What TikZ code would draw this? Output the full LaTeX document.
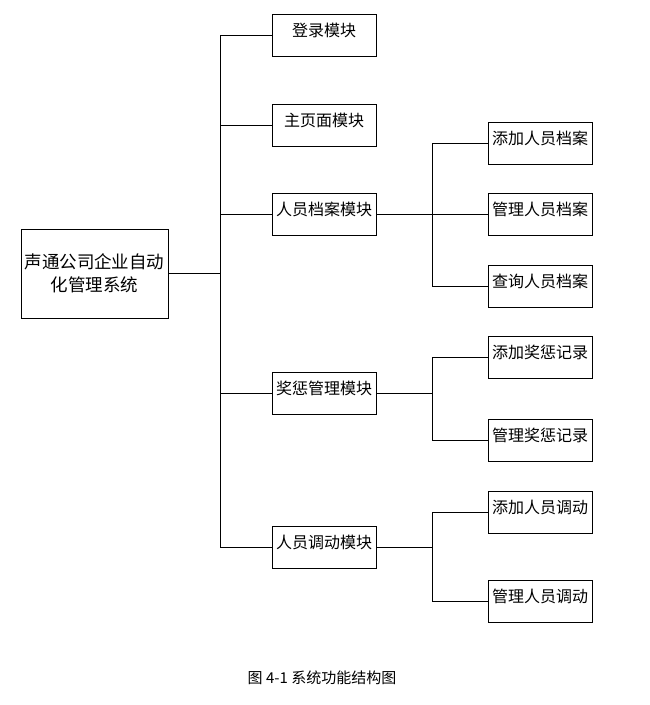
\documentclass[tikz,border=0pt]{standalone}
\usepackage{fontspec}
\setmainfont{Noto Sans CJK SC}
\usetikzlibrary{calc}
\tikzset{
	link/.style={line width=0.8pt},
	sysbox/.style={
			draw, line width=0.8pt, inner sep=0pt,
			minimum width=147pt, minimum height=89pt,
			align=center, font=\fontsize{17.5}{23}\selectfont
		},
	modbox/.style={
			draw, line width=0.8pt, inner sep=0pt,
			minimum width=104pt, minimum height=42pt,
			text height=22pt, text depth=20pt,
			font=\fontsize{16}{16}\selectfont
		}
}

\begin{document}
\begin{tikzpicture}[x=1pt,y=-1pt]
	\useasboundingbox (0,0) rectangle (649,705);

	\node[sysbox] (sys) at (94.5,273.5) {声通公司企业自动\\化管理系统};

	\node[modbox] (login) at (324,35.5) {登录模块};
	\node[modbox] (home) at (324,125) {主页面模块};
	\node[modbox] (archive) at (324,214) {人员档案模块};
	\node[modbox] (reward) at (324,393) {奖惩管理模块};
	\node[modbox] (transfer) at (324,547.5) {人员调动模块};

	\node[modbox] (addarc) at (540,143) {添加人员档案};
	\node[modbox] (mgrarc) at (540,214) {管理人员档案};
	\node[modbox] (qryarc) at (540,286) {查询人员档案};
	\node[modbox] (addrew) at (540,357) {添加奖惩记录};
	\node[modbox] (mgrrew) at (540,440) {管理奖惩记录};
	\node[modbox] (addtra) at (540,512) {添加人员调动};
	\node[modbox] (mgrtra) at (540,601) {管理人员调动};

	\node[font=\fontsize{15}{15}\selectfont] (cap) at (322,678) {图 4-1 系统功能结构图};

	\coordinate (trunk) at (220,0);
	\coordinate (sub) at (432,0);

	% first level
	\draw[link] (sys.east) -- (sys.east -| trunk);
	\draw[link] (login.west -| trunk) -- (transfer.west -| trunk);
	\foreach \m in {login,home,archive,reward,transfer}
		\draw[link] (\m.west -| trunk) -- (\m.west);

	% second level
	\draw[link] (archive.east) -- (mgrarc.west);
	\draw[link] (addarc.west -| sub) -- (qryarc.west -| sub);
	\draw[link] (reward.east) -- (reward.east -| sub);
	\draw[link] (addrew.west -| sub) -- (mgrrew.west -| sub);
	\draw[link] (transfer.east) -- (transfer.east -| sub);
	\draw[link] (addtra.west -| sub) -- (mgrtra.west -| sub);
	\foreach \m in {addarc,qryarc,addrew,mgrrew,addtra,mgrtra}
		\draw[link] (\m.west -| sub) -- (\m.west);
\end{tikzpicture}
\end{document}
